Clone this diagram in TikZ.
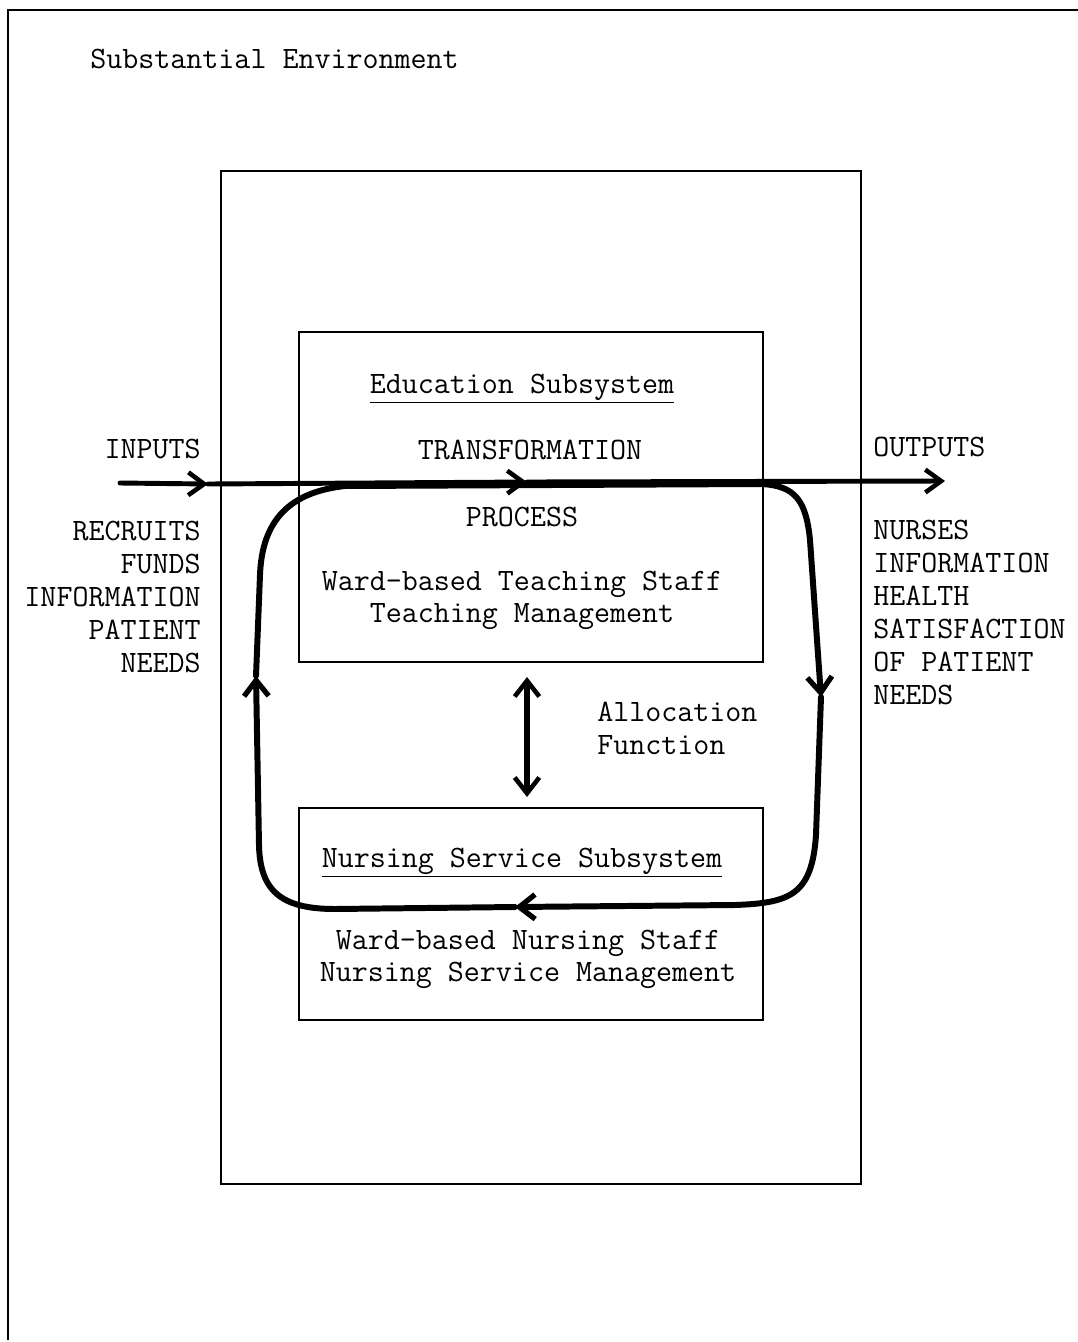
\documentclass[tikz,border=0pt]{standalone}
\usepackage{tikz}
\usetikzlibrary{arrows.meta}
\usetikzlibrary{positioning}

\begin{document}
\begin{tikzpicture}[x=0.02cm,y=-0.02cm]
                \tikzstyle{every node}=[inner sep=0pt,font=\fontsize{17.7}{18.8}\selectfont\ttfamily]
                \tikzstyle{frame}=[draw,line width=1.2pt]
                \tikzstyle{flow}=[line width=2.8pt,line cap=round,-{Straight Barb[length=9pt,width=13pt,line width=2.6pt]}]
                \tikzstyle{cycle}=[line width=3.4pt,line cap=round,-{Straight Barb[length=9pt,width=14pt,line width=3pt]}]
                \useasboundingbox (0,0) rectangle (1078,1342);

                % environment and boxes
                \draw[line width=1.2pt] (1078,10) -- (8,10) -- (8,1340);
                \node[frame,minimum width=640*0.02cm,minimum height=1013*0.02cm,anchor=north west] (system) at (220,170) {};
                \node[frame,minimum width=464*0.02cm,minimum height=330*0.02cm,anchor=north west] (edu) at (298,331) {};
                \node[frame,minimum width=464*0.02cm,minimum height=212*0.02cm,anchor=north west] (nurse) at (298,807) {};

                \node[anchor=base west] (env) at (90,68) {Substantial Environment};
                \node[anchor=base] (eduname) at (522,393) {\underline{Education Subsystem}};
                \node[anchor=base] (transf) at (530,459) {TRANSFORMATION};
                \node[anchor=base] (proc) at (522,526) {PROCESS};
                \node[anchor=base] (eduA) at (522,590) {Ward-based Teaching Staff};
                \node[anchor=base] (eduB) at (522,622) {Teaching Management};
                \node[anchor=base] (nursename) at (522,867) {\underline{Nursing Service Subsystem}};
                \node[anchor=base] (nurseA) at (528,949) {Ward-based Nursing Staff};
                \node[anchor=base] (nurseB) at (528,981) {Nursing Service Management};

                \node[anchor=base east] (inputs) at (201,458) {INPUTS};
                \node[anchor=north east,align=right] (inlist) at (201,521) {RECRUITS\\FUNDS\\INFORMATION\\PATIENT\\NEEDS};
                \node[anchor=base west] (outputs) at (873,456) {OUTPUTS};
                \node[anchor=north west,align=left] (outlist) at (873,520) {NURSES\\INFORMATION\\HEALTH\\SATISFACTION\\OF PATIENT\\NEEDS};
                \node[anchor=north west,align=left] (alloc) at (597,702) {Allocation\\Function};

                % main flow
                \coordinate (in) at (120,483);
                \coordinate (a1) at (208,484);
                \coordinate (a2) at (527,482);
                \coordinate (out) at (945,481);
                \draw[flow] (in) -- (a1);
                \draw[flow] (a1) -- (a2);
                \draw[flow] (a2) -- (out);

                % transformation cycle
                \coordinate (jr) at (762,484);
                \coordinate (rd) at (821,697);
                \coordinate (bm) at (515,907);
                \coordinate (lu) at (256,676);
                \coordinate (jl) at (345,486);
                \draw[line width=3.4pt,line cap=round] (jl) -- (jr);
                \draw[cycle] (jr) .. controls (795,486) and (806,500) .. (810,540) -- (rd);
                \draw[cycle] (rd) -- (816,835) .. controls (812,895) and (790,903) .. (735,905) -- (bm);
                \draw[cycle] (bm) -- (335,909) .. controls (280,909) and (260,890) .. (259,845) -- (lu);
                \draw[line width=3.4pt,line cap=round] (lu) -- (260,575) .. controls (262,520) and (290,492) .. (jl);

                % allocation
                \coordinate (al1) at (527,677);
                \coordinate (al2) at (527,797);
                \draw[line width=3pt,{Straight Barb[length=9pt,width=14pt,line width=2.6pt]}-{Straight Barb[length=9pt,width=14pt,line width=2.6pt]}] (al1) -- (al2);
            \end{tikzpicture}
\end{document}
